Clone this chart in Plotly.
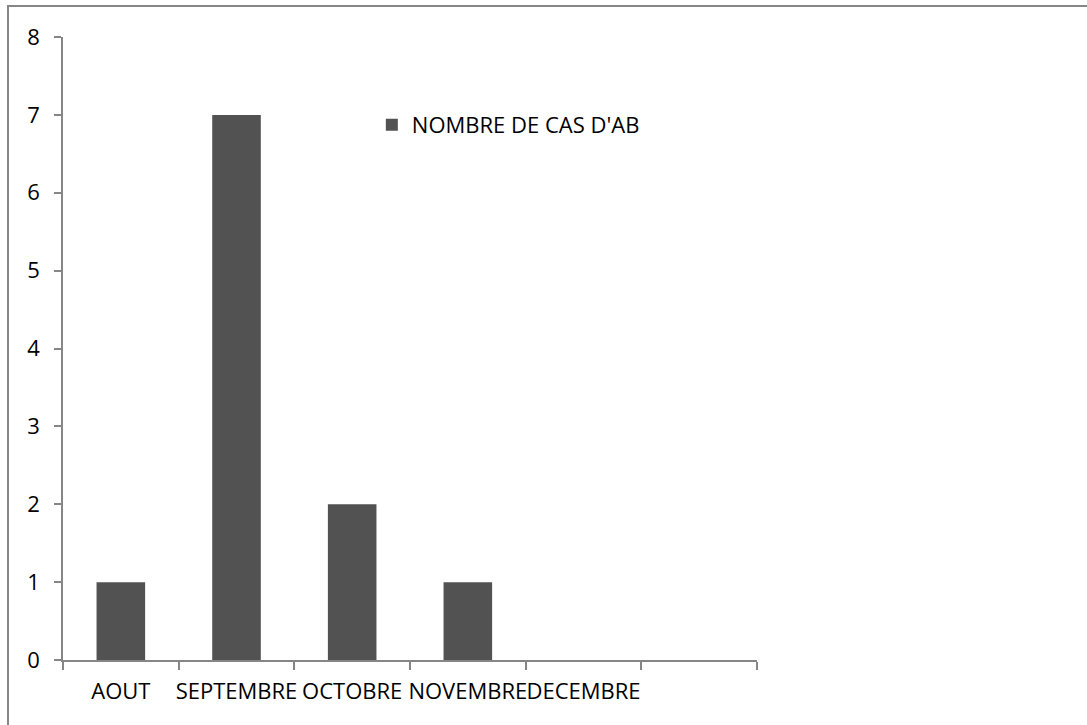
import plotly.graph_objects as go

categories = ["AOUT", "SEPTEMBRE", "OCTOBRE", "NOVEMBRE", "DECEMBRE", " "]
values = [1, 7, 2, 1, None, None]
series_name = "NOMBRE DE CAS D'AB"

fig = go.Figure()
fig.add_trace(go.Bar(
    x=categories, y=values, name=series_name,
    marker=dict(color="#525252", line=dict(width=0)),
    width=0.42, showlegend=True,
))

axis_color = "#868686"
fig.update_layout(
    width=1087, height=725,
    margin=dict(l=63, r=330, t=37, b=65),
    paper_bgcolor="white", plot_bgcolor="white",
    font=dict(family="Open Sans, Liberation Sans, sans-serif", size=22, color="black"),
    showlegend=True,
    legend=dict(x=0.445, y=0.859, xanchor="left", yanchor="middle",
                bgcolor="rgba(0,0,0,0)", font=dict(size=22)),
    bargap=0.58,
)
fig.update_xaxes(
    type="category", categoryorder="array", categoryarray=categories,
    range=[-0.5, 5.5], tickangle=0, tickfont=dict(size=22),
    showline=True, linecolor=axis_color, linewidth=1.5,
    ticks="outside", tickson="boundaries", ticklen=8, tickcolor=axis_color, tickwidth=1.5,
    showgrid=False, zeroline=False, ticklabelstandoff=11,
)
fig.update_yaxes(
    range=[0, 8], dtick=1, tickfont=dict(size=22),
    showline=True, linecolor=axis_color, linewidth=1.5,
    ticks="outside", ticklen=7, tickcolor=axis_color, tickwidth=1.5,
    showgrid=False, zeroline=False, ticklabelstandoff=10,
)
fig.add_shape(type="rect", xref="paper", yref="paper",
              x0=-55/694, x1=1.6, y0=-0.2, y1=1 + 31/623,
              line=dict(color="#868686", width=2), fillcolor="rgba(0,0,0,0)", layer="below")
fig.write_html("out.html")
